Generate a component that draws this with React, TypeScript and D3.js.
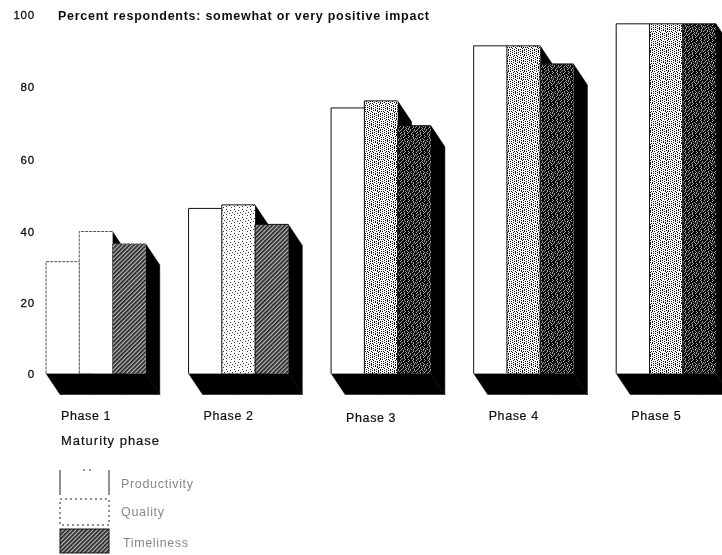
import React from "react";
import * as d3 from "d3";

const phases = ["Phase 1", "Phase 2", "Phase 3", "Phase 4", "Phase 5"];
const seriesNames = ["Productivity", "Quality", "Timeliness"];
const productivity = [31.5, 46.5, 74.8, 92.3, 98.5];
const quality = [40, 47.5, 76.8, 92.3, 98.5];
const timeliness = [36.5, 42, 69.8, 87.2, 98.5];
const yTicks = [0, 20, 40, 60, 80, 100];
const yTickPos = [374, 303, 232, 160, 87, 15];
const qualityFill = ["#fff", "url(#dotsSparse)", "url(#dotsDense)", "url(#dotsDense)", "url(#dotsDense)"];
const timeFill = ["url(#hatch)", "url(#hatch)", "url(#darkDots)", "url(#darkDots)", "url(#darkDots)"];

const tileSparse = ["........", "..#.....", "......#.", "...#....", "#.......", ".....#..", "..#.....", ".......#"];
const tileDense = [
  "#...#.....#.....",
  "..#...#.#...#.#.",
  "#...#.#...#.#...",
  "..#.....#.#...#.",
  "#...#.#...#.#...",
  "..#.#...#.....#.",
  "#.....#...#.#...",
  "..#.#...#...#.#.",
  ".#...#.....#....",
  "...#...#.#...#.#",
  ".#...#...#.#....",
  "...#...#.....#.#",
  ".#.#.#...#.#....",
  "...#...#...#.#.#",
  ".#...#.#.#......",
  "...#.....#.#.#.#",
];
const tileDark = [
  "##.###.#.###.###",
  "#.###.##.#.###.#",
  ".###.#.###.###.#",
  "###.###.#.###.#.",
  "#.##.###.###.###",
  ".###.##.###.####",
  "##.#.######.#.##",
  "#.###.##.####.##",
  ".###.####.##.###",
  "###.####.####.##",
  "#.####.######.#.",
  ".###.##.###.##.#",
  "##.#.###.#.###.#",
  "#.###.#.###.#.##",
  ".##.###.#.###.##",
  "###.#.###.###.#.",
];

const W = 722, H = 555;
const x0 = d3.scaleBand<string>().domain(phases).range([46, 716]).paddingInner(0.3).paddingOuter(0).align(0);
const x1 = d3.scaleBand<string>().domain(seriesNames).range([0, x0.bandwidth()]);
const y = d3.scaleLinear().domain([0, 100]).range([373.5, 18.5]);
const dx = 14, dy = 21;
const font = "'Liberation Sans', Arial, sans-serif";

function Tile({ id, rows, color = "#000", bg = "#fff", transform }: { id: string; rows: string[]; color?: string; bg?: string; transform?: string }) {
  return (
    <pattern id={id} width={rows[0].length} height={rows.length} patternUnits="userSpaceOnUse" patternTransform={transform}>
      <rect width={rows[0].length} height={rows.length} fill={bg} />
      {rows.flatMap((r, j) =>
        r.split("").map((c, i) => (c === "#" ? <rect key={`${i}-${j}`} x={i} y={j} width={1} height={1} fill={color} /> : null))
      )}
    </pattern>
  );
}

export default function App() {
  const values = [productivity, quality, timeliness];
  const fills = (s: number, p: number) => (s === 0 ? "#fff" : s === 1 ? qualityFill[p] : timeFill[p]);
  const ink = { fontFamily: font, fill: "#111" };
  return (
    <svg width={W} height={H} viewBox={`0 0 ${W} ${H}`} style={{ position: "absolute", left: 0, top: 0, background: "#fff" }}>
      <defs>
        <Tile id="dotsSparse" rows={tileSparse} color="#333" />
        <Tile id="dotsDense" rows={tileDense} color="#111" />
        <Tile id="darkDots" rows={tileDark} color="#111" bg="#999" />
        <pattern id="hatch" width={3} height={3} patternUnits="userSpaceOnUse" patternTransform="rotate(-45)">
          <rect width={3} height={3} fill="#bbb" />
          <rect width={3} height={1.7} fill="#222" />
        </pattern>
        <filter id="soft"><feGaussianBlur stdDeviation="0.4" /></filter>
      </defs>
      <g filter="url(#soft)">
        {phases.map((ph, p) => {
          const gx = x0(ph)!;
          const bw = x1.bandwidth();
          const base = y(0);
          return (
            <g key={ph}>
              {seriesNames.map((s, si) => {
                const bx = gx + x1(s)!;
                const top = y(values[si][p]);
                return (
                  <polygon
                    key={s}
                    points={`${bx + bw},${top} ${bx + bw + dx},${top + dy} ${bx + bw + dx},${base + dy} ${bx + bw},${base}`}
                    fill="#000" stroke="#000" strokeWidth={0.5}
                  />
                );
              })}
              <polygon
                points={`${gx},${base} ${gx + x0.bandwidth()},${base} ${gx + x0.bandwidth() + dx},${base + dy} ${gx + dx},${base + dy}`}
                fill="#000" stroke="#000" strokeWidth={0.5}
              />
              {seriesNames.map((s, si) => {
                const bx = gx + x1(s)!;
                const top = y(values[si][p]);
                return (
                  <g key={s}>
                    <rect x={bx} y={top} width={bw} height={base - top} fill={fills(si, p)} />
                    <path
                      d={`M${bx},${base}V${top}H${bx + bw}`}
                      fill="none"
                      stroke={p === 0 ? "#555" : "#111"}
                      strokeWidth={1}
                      strokeDasharray={p === 0 ? "3 1" : undefined}
                    />
                  </g>
                );
              })}
              <text x={gx + 15} y={p === 2 ? 421.5 : 420} fontSize={12.5} letterSpacing={0.6} stroke="#111" strokeWidth={0.2} {...ink}>{ph}</text>
            </g>
          );
        })}
        {yTicks.map((t, i) => (
          <text key={t} x={35} y={yTickPos[i] + 4} textAnchor="end" fontSize={11.5} letterSpacing={0.8} stroke="#111" strokeWidth={0.3} {...ink}>{t}</text>
        ))}
        <text x={58} y={20} fontSize={12.5} fontWeight={700} textLength={371} lengthAdjust="spacing" {...ink}>Percent respondents: somewhat or very positive impact</text>
        <text x={61} y={445} fontSize={13} textLength={98} lengthAdjust="spacing" stroke="#111" strokeWidth={0.2} {...ink}>Maturity phase</text>

        <path d="M60,470V495M109,470V495" fill="none" stroke="#222" strokeWidth={1} />
        <path d="M83,470H93" fill="none" stroke="#333" strokeWidth={1} strokeDasharray="2 4" />
        <rect x={60} y={499} width={49} height={26} fill="#fff" stroke="#222" strokeWidth={1} strokeDasharray="2 3" />
        <rect x={60} y={529} width={49} height={24} fill="url(#hatch)" stroke="#111" strokeWidth={1} />
        {seriesNames.map((s, i) => (
          <text
            key={s}
            x={[121, 121, 123][i]}
            y={[488, 516, 547][i]}
            fontSize={12.5}
            textLength={[72, 43, 65][i]}
            lengthAdjust="spacing"
            fontFamily={font}
            fill="#888"
          >{s}</text>
        ))}
      </g>
    </svg>
  );
}
